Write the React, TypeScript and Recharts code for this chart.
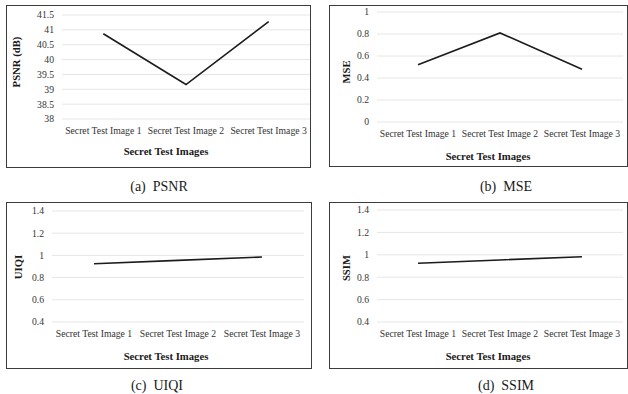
import { LineChart, Line, XAxis, YAxis, CartesianGrid } from "recharts";

const categories = ["Secret Test Image 1", "Secret Test Image 2", "Secret Test Image 3"];
const psnrValues = [40.87, 39.16, 41.28];
const mseValues = [0.52, 0.81, 0.48];
const uiqiValues = [0.925, 0.955, 0.985];
const ssimValues = [0.925, 0.954, 0.983];

const psnrTicks = [38, 38.5, 39, 39.5, 40, 40.5, 41, 41.5];
const mseTicks = [0, 0.2, 0.4, 0.6, 0.8, 1];
const qualityTicks = [0.4, 0.6, 0.8, 1, 1.2, 1.4];

const SERIF = "'Liberation Serif', 'Times New Roman', serif";
const TICK = { fontSize: 9.7, fill: "#333", fontFamily: SERIF };

interface Box { x: number; y: number; w: number; h: number }
interface Inset { left: number; right: number; top: number; bottom: number }

interface PanelProps {
  box: Box;
  inset: Inset;
  values: number[];
  ticks: number[];
  yLabel: string;
  yLabelAt: [number, number];
  titleAt: [number, number];
  caption: string;
  captionAt: [number, number];
}

function centered(at: [number, number], extra = ""): React.CSSProperties {
  return {
    position: "absolute",
    left: at[0],
    top: at[1],
    transform: `translate(-50%, -50%) ${extra}`,
    whiteSpace: "pre",
    lineHeight: 1,
  };
}

function Panel({ box, inset, values, ticks, yLabel, yLabelAt, titleAt, caption, captionAt }: PanelProps) {
  const rows = categories.map((name, i) => ({ name, v: values[i] }));
  return (
    <>
      <div
        style={{
          position: "absolute",
          left: box.x,
          top: box.y,
          width: box.w,
          height: box.h,
          border: "1.5px solid #3c3c3c",
          boxSizing: "border-box",
        }}
      />
      <div style={{ position: "absolute", left: box.x, top: box.y }}>
        <LineChart
          width={box.w}
          height={box.h}
          data={rows}
          margin={{ top: inset.top, right: inset.right, left: 0, bottom: 0 }}
          style={{ fontFamily: SERIF }}
        >
          <CartesianGrid vertical={false} stroke="#e6e6e6" />
          <XAxis
            dataKey="name"
            scale="band"
            interval={0}
            axisLine={false}
            tickLine={false}
            height={inset.bottom}
            tick={TICK}
          />
          <YAxis
            width={inset.left}
            domain={[ticks[0], ticks[ticks.length - 1]]}
            ticks={ticks}
            interval={0}
            axisLine={false}
            tickLine={false}
            tick={TICK}
          />
          <Line
            dataKey="v"
            stroke="#1c1c1c"
            strokeWidth={1.6}
            dot={false}
            isAnimationActive={false}
          />
        </LineChart>
      </div>
      <div style={{ ...centered(yLabelAt, "rotate(-90deg)"), fontWeight: "bold", fontSize: 10.7 }}>
        {yLabel}
      </div>
      <div style={{ ...centered(titleAt), fontWeight: "bold", fontSize: 10.7 }}>Secret Test Images</div>
      <div style={{ ...centered(captionAt), fontSize: 14 }}>{caption}</div>
    </>
  );
}

export default function App() {
  return (
    <div
      style={{
        position: "absolute",
        left: 0,
        top: 0,
        width: 628,
        height: 394,
        background: "#fff",
        overflow: "hidden",
        fontFamily: SERIF,
        color: "#1a1a1a",
      }}
    >
      <style>{`.recharts-text, .recharts-cartesian-axis-tick-value { font-family: ${SERIF}; }`}</style>
      <Panel
        box={{ x: 6, y: 5, w: 305, h: 163 }}
        inset={{ left: 56, right: 1, top: 10, bottom: 49 }}
        values={psnrValues}
        ticks={psnrTicks}
        yLabel="PSNR (dB)"
        yLabelAt={[16, 62]}
        titleAt={[166, 151]}
        caption="(a)  PSNR"
        captionAt={[159, 187]}
      />
      <Panel
        box={{ x: 329, y: 5, w: 299, h: 162 }}
        inset={{ left: 48, right: 5, top: 7, bottom: 45 }}
        values={mseValues}
        ticks={mseTicks}
        yLabel="MSE"
        yLabelAt={[346, 72]}
        titleAt={[488, 156]}
        caption="(b)  MSE"
        captionAt={[506, 187]}
      />
      <Panel
        box={{ x: 6, y: 202, w: 306, h: 167 }}
        inset={{ left: 46, right: 8, top: 9, bottom: 47 }}
        values={uiqiValues}
        ticks={qualityTicks}
        yLabel="UIQI"
        yLabelAt={[18, 267]}
        titleAt={[166, 356]}
        caption="(c)  UIQI"
        captionAt={[157, 386]}
      />
      <Panel
        box={{ x: 329, y: 202, w: 299, h: 167 }}
        inset={{ left: 48, right: 5, top: 8, bottom: 47 }}
        values={ssimValues}
        ticks={qualityTicks}
        yLabel="SSIM"
        yLabelAt={[346, 268]}
        titleAt={[488, 356]}
        caption="(d)  SSIM"
        captionAt={[506, 386]}
      />
    </div>
  );
}
